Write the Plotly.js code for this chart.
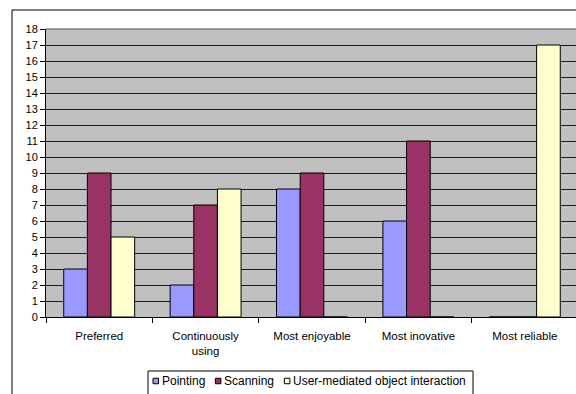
<!DOCTYPE html>
<html>
<head>
<meta charset="utf-8">
<script src="https://cdn.plot.ly/plotly-3.0.1.min.js"></script>
<style>
  html, body { margin: 0; padding: 0; background: #fff; }
  #chart { width: 576px; height: 394px; }
</style>
</head>
<body>
<div id="chart"></div>
<script>
// Survey answers per interaction technique
const categories = ['Preferred', 'Continuously<br>using', 'Most enjoyable', 'Most inovative', 'Most reliable'];
const seriesNames = ['Pointing', 'Scanning', 'User-mediated object interaction'];
const pointing = [3, 2, 8, 6, 0];
const scanning = [9, 7, 9, 11, 0];
const userMediated = [5, 8, 0, 0, 17];
const yTicks = [0, 1, 2, 3, 4, 5, 6, 7, 8, 9, 10, 11, 12, 13, 14, 15, 16, 17, 18];

const seriesColors = ['#9999FF', '#993366', '#FFFFCC'];
const seriesValues = [pointing, scanning, userMediated];

// Page geometry (pixels)
const W = 576, H = 394;
const M = { l: 46, r: 0, t: 29, b: 77 };
const plotW = W - M.l - M.r;
const plotH = H - M.t - M.b;
const catPx = 106.4;
const px = x => (x - M.l) / plotW;
const py = y => (H - M.b - y) / plotH;

const font = '"Liberation Sans", Arial, sans-serif';

const traces = seriesNames.map((name, i) => ({
  type: 'bar',
  name: name,
  x: categories,
  y: seriesValues[i],
  marker: { color: seriesColors[i], line: { color: '#000', width: 1 } },
  showlegend: false,
  hoverinfo: 'x+y+name'
}));

// Legend drawn as a boxed row of small swatches and labels
const legendFontSize = 12;
const ctx = document.createElement('canvas').getContext('2d');
ctx.font = legendFontSize + 'px "Liberation Sans"';
const shapes = [];
const annotations = [];

// outer chart frame
shapes.push({
  type: 'rect', xref: 'paper', yref: 'paper',
  x0: px(12), x1: px(620), y0: py(430), y1: py(10),
  line: { color: '#000', width: 1 }, fillcolor: 'rgba(0,0,0,0)', layer: 'above'
});
// grey top border of the plot area
shapes.push({
  type: 'line', xref: 'paper', yref: 'paper',
  x0: 0, x1: 1, y0: 1, y1: 1,
  line: { color: '#808080', width: 1.5 }, layer: 'above'
});
// legend box
shapes.push({
  type: 'rect', xref: 'paper', yref: 'paper',
  x0: px(148), x1: px(473), y0: py(430), y1: py(371),
  line: { color: '#000', width: 1 }, fillcolor: '#fff', layer: 'above'
});

let cursor = 153;
const legendMid = 381;
seriesNames.forEach((name, i) => {
  shapes.push({
    type: 'rect', xref: 'paper', yref: 'paper',
    x0: px(cursor), x1: px(cursor + 5.5), y0: py(legendMid + 2.75), y1: py(legendMid - 2.75),
    line: { color: '#000', width: 1 }, fillcolor: seriesColors[i], layer: 'above'
  });
  const tx = cursor + 7;
  annotations.push({
    xref: 'paper', yref: 'paper', x: px(tx), y: py(legendMid),
    xanchor: 'left', yanchor: 'middle', showarrow: false,
    text: name, font: { family: font, size: legendFontSize, color: '#000' }
  });
  cursor = tx + ctx.measureText(name).width + 12;
});

const layout = {
  width: W, height: H,
  margin: M,
  paper_bgcolor: '#fff',
  plot_bgcolor: '#C0C0C0',
  barmode: 'group',
  bargap: 1 / 3,
  bargroupgap: 0,
  showlegend: false,
  font: { family: font, size: 11, color: '#000' },
  xaxis: {
    type: 'category',
    range: [-0.5, -0.5 + plotW / catPx],
    showgrid: false,
    showline: true, linecolor: '#000', linewidth: 1,
    ticks: 'outside', tickson: 'boundaries', ticklen: 5, tickcolor: '#000', tickwidth: 1,
    tickfont: { family: font, size: 11.5, color: '#000' },
    ticklabelstandoff: 8,
    fixedrange: true
  },
  yaxis: {
    range: [0, 18],
    tickmode: 'array', tickvals: yTicks, ticktext: yTicks.map(String),
    showgrid: true, gridcolor: '#1a1a1a', gridwidth: 1,
    showline: true, linecolor: '#000', linewidth: 1,
    ticks: 'outside', ticklen: 5, tickcolor: '#000', tickwidth: 1,
    tickfont: { family: font, size: 11, color: '#000' },
    zeroline: false,
    fixedrange: true
  },
  shapes: shapes,
  annotations: annotations
};

Plotly.newPlot('chart', traces, layout, { displayModeBar: false, staticPlot: true });
</script>
</body>
</html>
